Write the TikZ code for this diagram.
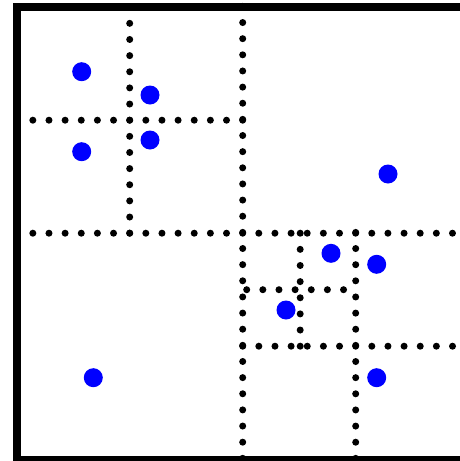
\documentclass[tikz,border=0pt]{standalone}
\begin{document}
\begin{tikzpicture}[x=1pt,y=-1pt,
  grid/.style={line width=7pt,line cap=round,dash pattern=on 0pt off 16.14pt},
  pt/.style={circle,fill={rgb,255:red,0;green,0;blue,255},inner sep=0pt,minimum size=19pt},
  frame/.style={line width=8pt}]
\useasboundingbox (0,0) rectangle (460,461);
\clip (0,0) rectangle (460,461);
\fill[white] (0,0) rectangle (460,461);
% subdivision lines
\draw[grid] (16.7,233.2) -- (469,233.2);
\draw[grid] (242.7,6.4) -- (242.7,458.5);
\draw[grid] (16.7,120.2) -- (243,120.2);
\draw[grid] (129.7,7.2) -- (129.7,233.5);
\draw[grid] (242.7,346.2) -- (469,346.2);
\draw[grid] (355.7,232.4) -- (355.7,458.5);
\draw[grid] (300.2,233.2) -- (300.2,346.5);
\draw[grid] (246.7,289.7) -- (345,289.7);
% points
\node[pt] (p1) at (81.7,71.7) {};
\node[pt] (p2) at (150,95) {};
\node[pt] (p3) at (81.7,151.7) {};
\node[pt] (p4) at (150,140) {};
\node[pt] (p5) at (388,174) {};
\node[pt] (p6) at (331,253.3) {};
\node[pt] (p7) at (376.7,264.3) {};
\node[pt] (p8) at (286,310) {};
\node[pt] (p9) at (93.3,377.7) {};
\node[pt] (p10) at (376.7,377.7) {};
% frame
\draw[frame] (16.7,7.2) rectangle (468.7,459.5);
\end{tikzpicture}
\end{document}
